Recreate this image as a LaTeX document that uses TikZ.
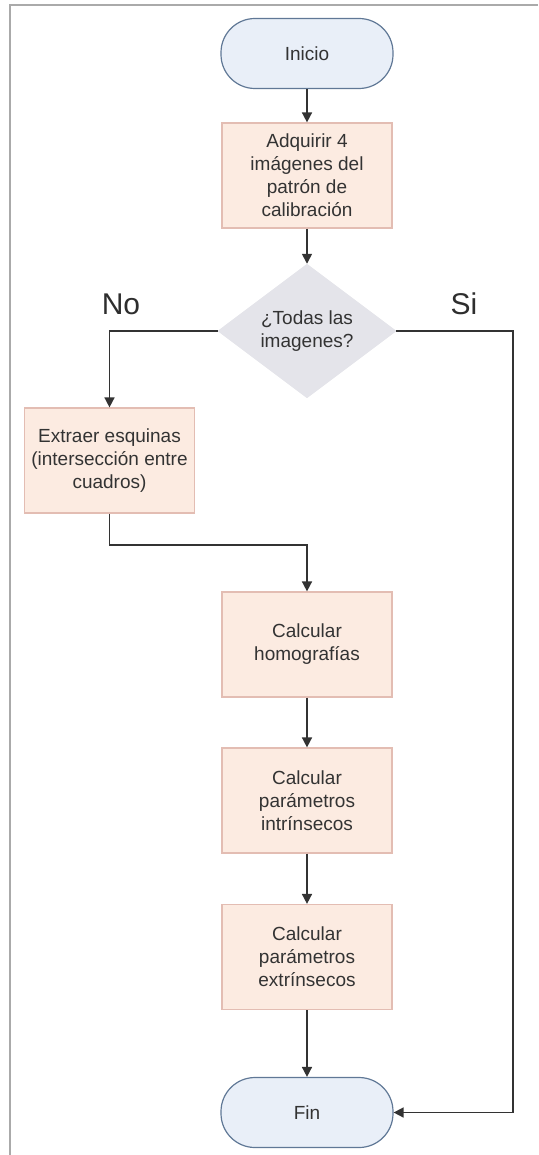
\documentclass[tikz,border=0pt]{standalone}
\usepackage{fontspec}
\setmainfont{Liberation Sans}
\usetikzlibrary{shapes.geometric,arrows.meta}
\definecolor{procfill}{HTML}{FCEBE1}
\definecolor{procline}{HTML}{E3BDB3}
\definecolor{termfill}{HTML}{E9EFF8}
\definecolor{termline}{HTML}{607896}
\definecolor{decfill}{HTML}{E4E4EA}
\definecolor{ink}{HTML}{333333}
\definecolor{framegray}{HTML}{AAAAAA}
\begin{document}
\begin{tikzpicture}[x=1pt,y=-1pt,
  every node/.style={font=\fontsize{19}{23}\selectfont, text=ink, align=center},
  proc/.style={rectangle, draw=procline, fill=procfill, line width=1.2pt,
    minimum width=170pt, minimum height=105pt, inner sep=0pt},
  term/.style={rectangle, rounded corners=34pt, draw=termline, fill=termfill,
    line width=1.2pt, minimum width=172pt, minimum height=70pt, inner sep=0pt},
  dec/.style={diamond, fill=decfill, draw=decfill, line width=0.8pt,
    minimum width=178pt, minimum height=111pt, inner sep=0pt},
  lbl/.style={font=\fontsize{30}{34}\selectfont, text=ink!90!black},
  flow/.style={draw=ink, line width=1.6pt, -{Triangle[length=10pt,width=10pt]}}]
  \useasboundingbox (0,0) rectangle (538,1155);

  % page frame
  \draw[framegray, line width=2pt] (10,1155) -- (10,5) -- (538,5);

  % main column
  \node[term] (inicio) at (307,53.5) {Inicio};
  \node[proc] (adq) at (307,175.5) {Adquirir 4\\imágenes del\\patrón de\\calibración};
  \node[dec] (todas) at (307,331) {¿Todas las\\imagenes?};
  \node[proc] (extra) at (109.5,460.5) {Extraer esquinas\\(intersección entre\\cuadros)};
  \node[proc] (homo) at (307,644.5) {Calcular\\homografías};
  \node[proc] (intr) at (307,800.5) {Calcular\\parámetros\\intrínsecos};
  \node[proc] (extr) at (307,957) {Calcular\\parámetros\\extrínsecos};
  \node[term] (fin) at (307,1112.5) {Fin};

  % branch labels
  \node[lbl] (no) at (121,304) {No};
  \node[lbl] (si) at (464,304) {Si};

  % routing points
  \coordinate (elbow) at (307,545);
  \coordinate (siturn) at (513,331);

  % connectors
  \draw[flow] (inicio) -- (adq);
  \draw[flow] (adq) -- (todas);
  \draw[flow] (todas.west) -| (extra.north);
  \draw[flow] (extra.south) |- (elbow) -- (homo.north);
  \draw[flow] (homo) -- (intr);
  \draw[flow] (intr) -- (extr);
  \draw[flow] (extr) -- (fin);
  \draw[flow] (todas.east) -- (siturn) |- (fin.east);
\end{tikzpicture}
\end{document}
